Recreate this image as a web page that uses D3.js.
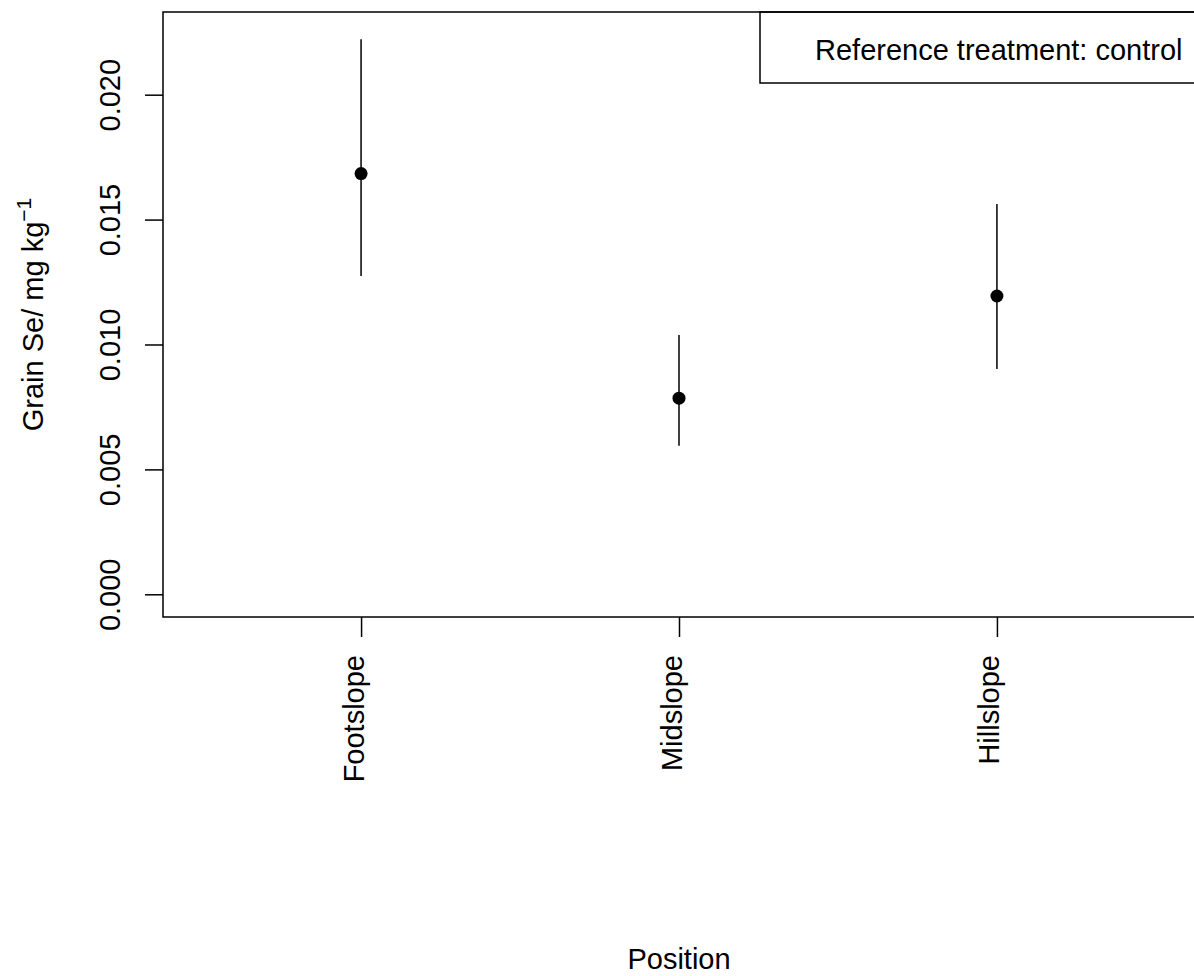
<!DOCTYPE html>
<html lang="en">
<head>
  <meta charset="UTF-8">
  <title>Grain Se by Position</title>
  <script src="https://d3js.org/d3.v7.min.js"></script>
  <style>
    html, body { margin: 0; padding: 0; background: #fff; overflow: hidden; }
    svg { display: block; }
    text { font-family: "Liberation Sans", Arial, sans-serif; font-size: 29px; fill: #000; }
    .tick line { stroke: #000; stroke-width: 1.5px; }
    .errbar { stroke: #000; stroke-width: 1.5px; }
    .frame { fill: none; stroke: #000; stroke-width: 1.5px; }
  </style>
</head>
<body>
  <svg id="chart" width="1194" height="976"></svg>
  <script>
  // data
  const positions = ["Footslope", "Midslope", "Hillslope"];
  const means = [0.01684, 0.00785, 0.01194];
  const upper = [0.02222, 0.01038, 0.01562];
  const lower = [0.01274, 0.00595, 0.00902];
  const yTicks = [0, 0.005, 0.010, 0.015, 0.020];
  const legendText = "Reference treatment: control";

  const svg = d3.select("#chart");

  // plot region (R-like layout, right edge just past the window)
  const plotL = 163, plotR = 1195, plotT = 12, plotB = 617;

  const x = d3.scaleLinear().domain([-0.623, 2.623]).range([plotL, plotR]);
  const y = d3.scaleLinear().domain([-0.000909, 0.02331]).range([plotB, plotT]);

  // y axis
  const yAxis = svg.append("g")
    .attr("transform", `translate(${plotL},0)`)
    .call(d3.axisLeft(y).tickValues(yTicks).tickSize(18).tickFormat(d3.format(".3f")));
  yAxis.select(".domain").remove();
  yAxis.selectAll(".tick text")
    .attr("x", null).attr("dy", null)
    .attr("fill", "#000")
    .style("font-size", "29px")
    .attr("text-anchor", "middle")
    .attr("transform", "translate(-43,0) rotate(-90)");

  // x axis
  const xAxis = svg.append("g")
    .attr("transform", `translate(0,${plotB})`)
    .call(d3.axisBottom(x).tickValues(d3.range(positions.length)).tickSize(20).tickFormat(i => positions[i]));
  xAxis.select(".domain").remove();
  xAxis.selectAll(".tick text")
    .attr("y", null).attr("dy", null)
    .attr("fill", "#000")
    .style("font-size", "29px")
    .attr("text-anchor", "end")
    .attr("transform", "translate(2,38) rotate(-90)");

  // plot frame
  svg.append("rect").attr("class", "frame")
    .attr("x", plotL).attr("y", plotT)
    .attr("width", plotR - plotL).attr("height", plotB - plotT);

  // error bars
  svg.selectAll(".errbar")
    .data(positions)
    .join("line")
    .attr("class", "errbar")
    .attr("x1", (d, i) => x(i)).attr("x2", (d, i) => x(i))
    .attr("y1", (d, i) => y(lower[i])).attr("y2", (d, i) => y(upper[i]));

  // points
  svg.selectAll(".pt")
    .data(positions)
    .join("circle")
    .attr("class", "pt")
    .attr("cx", (d, i) => x(i))
    .attr("cy", (d, i) => y(means[i]))
    .attr("r", 6.5)
    .attr("fill", "#000");

  // legend box (top right)
  svg.append("rect").attr("class", "frame")
    .attr("x", 760).attr("y", plotT)
    .attr("width", plotR - 760).attr("height", 83 - plotT);
  svg.append("text")
    .attr("x", 815).attr("y", 60)
    .text(legendText);

  // axis titles
  svg.append("text")
    .attr("x", (plotL + plotR) / 2).attr("y", 969)
    .attr("text-anchor", "middle")
    .text("Position");

  const yTitle = svg.append("text")
    .attr("transform", `translate(43,${(plotT + plotB) / 2}) rotate(-90)`)
    .attr("text-anchor", "middle");
  yTitle.append("tspan").text("Grain Se/ mg kg");
  yTitle.append("tspan")
    .attr("dy", "-0.55em")
    .style("font-size", "21px")
    .text("\u22121");
  </script>
</body>
</html>
